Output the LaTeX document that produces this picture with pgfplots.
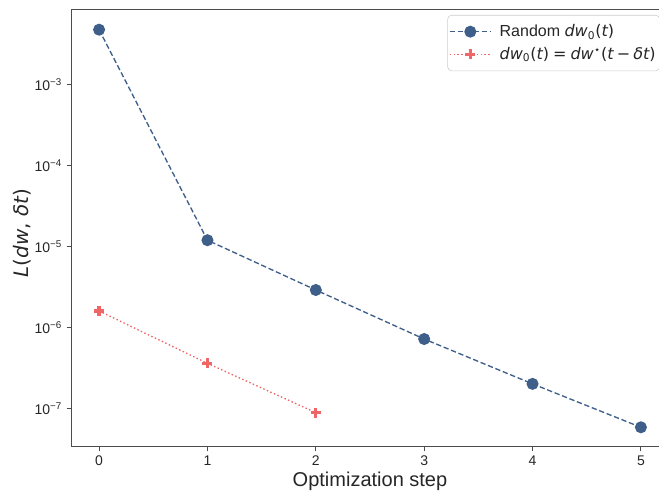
\documentclass[border=0pt]{standalone}
\usepackage{fontspec}
\setmainfont{Liberation Sans}
\newfontfamily\djv{DejaVu Sans}
\usepackage{pgfplots}
\pgfplotsset{compat=1.18}
\definecolor{cblue}{HTML}{3D5F8A}
\definecolor{cred}{HTML}{EE6666}
\newcommand\mi[1]{{\djv\itshape #1}}
\newcommand\mr[1]{{\djv #1}}
\begin{document}
\begin{tikzpicture}
\begin{axis}[
  name=ax,
  at={(0,0)}, anchor=south west,
  scale only axis, width=447pt, height=327pt,
  xmin=-0.25, xmax=5.25,
  ymode=log, ymin=3.49e-8, ymax=8.4e-3,
  /pgf/number format/assume math mode=true,
  axis line style={black!70, line width=0.75pt},
  tick align=outside, major tick length=4pt,
  tick style={black!70, line width=0.75pt},
  xtick pos=left, ytick pos=left,
  xtick={0,1,2,3,4,5},
  xticklabels={0,1,2,3,4,5},
  ytick={1e-7,1e-6,1e-5,1e-4,1e-3},
  yticklabels={10\textsuperscript{−7},10\textsuperscript{−6},10\textsuperscript{−5},10\textsuperscript{−4},10\textsuperscript{−3}},
  yminorticks=false,
  ticklabel style={font=\fontsize{10.5}{12}\selectfont, text=black!85},
  xlabel={Optimization step},
  xlabel style={font=\fontsize{15}{18}\selectfont, text=black!85, at={(axis description cs:0.5,-0.0803)}, anchor=center},
  ylabel={\mi{L}\mr{(}\mi{dw}\mr{, }\mi{δt}\mr{)}},
  ylabel style={font=\fontsize{15}{18}\selectfont, text=black!85, at={(axis description cs:-0.0839,0.4885)}, anchor=center},
  legend cell align=left,
  legend image code/.code={\draw[mark repeat=2,mark phase=2,#1] plot coordinates {(0pt,0pt) (15.5pt,0pt) (31pt,0pt)};},
  legend style={at={(axis description cs:1,1)}, anchor=north east, xshift=-6pt, yshift=-3.75pt,
    draw=black!20, rounded corners=3pt, fill=white, text=black!85,
    font=\fontsize{12}{14}\selectfont, inner xsep=1pt, inner ysep=5pt, row sep=2.5pt,
    /tikz/every odd column/.append style={column sep=4pt}},
]
\addplot[cblue, line width=1pt, dash pattern=on 4pt off 2pt, mark=*, mark size=4pt,
  mark options={solid, draw=none, fill=cblue}]
  coordinates {(0,4.8e-3) (1,1.21e-5) (2,2.94e-6) (3,7.3e-7) (4,2.04e-7) (5,5.94e-8)};
\addlegendentry{Random \mi{dw}\mr{\textsubscript{0}(}\mi{t}\mr{)}}
\addplot[cred, line width=1pt, dash pattern=on 1.1pt off 1.8pt, mark=+, mark size=3.75pt,
  mark options={solid, line width=2.5pt}]
  coordinates {(0,1.62e-6) (1,3.66e-7) (2,9.0e-8)};
\addlegendentry{\mi{dw}\mr{\textsubscript{0}(}\mi{t}\mr{)\hspace{0.25em}=\hspace{0.25em}}\mi{dw}\mr{\textsuperscript{⋆}(}\mi{t}\mr{\hspace{0.2em}−\hspace{0.2em}}\mi{δt}\mr{)}}
\end{axis}
\pgfresetboundingbox
\useasboundingbox ([xshift=-54pt,yshift=-33.75pt]ax.south west) rectangle ([xshift=440.25pt,yshift=334.5pt]ax.south west);
\end{tikzpicture}
\end{document}
